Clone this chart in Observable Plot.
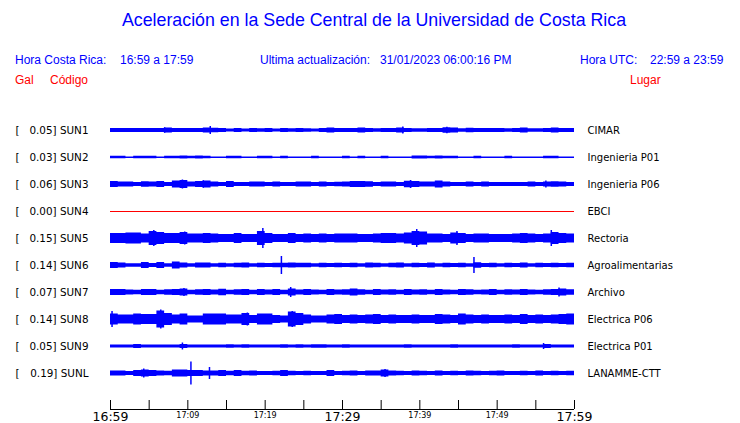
<!DOCTYPE html>
<html><head><meta charset="utf-8">
<script src="https://cdn.jsdelivr.net/npm/d3@7"></script>
<script src="https://cdn.jsdelivr.net/npm/@observablehq/plot@0.6"></script>
<style>
body{margin:0;background:#fff;}
#wrap{position:relative;width:740px;height:423px;overflow:hidden;background:#fff;}
#head{position:relative;width:740px;height:100px;font-family:"Liberation Sans",Arial,sans-serif;}
#head span{position:absolute;white-space:pre;line-height:1;}
.b{color:#0000ff;font-size:12px;top:54px}
.r{color:#ff0000;font-size:12px;top:74px}
#title{left:0;width:748px;text-align:center;font-size:17.8px;color:#0000ff;top:12px}
svg{display:block}
</style></head>
<body><div id="wrap">
<div id="head">
<span id="title">Aceleración en la Sede Central de la Universidad de Costa Rica</span>
<span class="b" style="left:15px">Hora Costa Rica:</span>
<span class="b" style="left:120px">16:59 a 17:59</span>
<span class="b" style="left:260px">Ultima actualización:</span>
<span class="b" style="left:380px">31/01/2023 06:00:16 PM</span>
<span class="b" style="left:580px">Hora UTC:</span>
<span class="b" style="left:650px">22:59 a 23:59</span>
<span class="r" style="left:15px">Gal</span>
<span class="r" style="left:50px">Código</span>
<span class="r" style="left:630px">Lugar</span>
</div>
<div id="chart"></div>
</div>
<script>
// ---- data ----
const stations = ["SUN1","SUN2","SUN3","SUN4","SUN5","SUN6","SUN7","SUN8","SUN9","SUNL"];
const places = ["CIMAR","Ingenieria P01","Ingenieria P06","EBCI","Rectoria","Agroalimentarias","Archivo","Electrica P06","Electrica P01","LANAMME-CTT"];
const peaks = [0.05,0.03,0.06,0.00,0.15,0.14,0.07,0.14,0.05,0.19];
const bigTickLabels = ["16:59","17:29","17:59"];
const smallTickLabels = ["17:09","17:19","17:39","17:49"];
const tickStepMinutes = 5;
const windowMinutes = 60;

// per-minute envelope half-amplitudes (display units)
const env1 = [2,2,2,2,2,2,2,2.5,2,2, 2,2,2.5,2.2,2,1.6,2,1.6,2,1.8, 2,1.6,2,1.8,2,1.8,1.6,2,2.4,2, 2,2,2.6,2,1.8,2,2,2.6,2,1.8, 1.8,2,2,2.8,2.6,1.8,2.2,2,2,2, 2,1.8,2,2.6,1.8,1.8,2,2.4,2,2];
const env2 = [1.2,1.2,0.6,1.2,1.2,1.2,0.6,1.2,1.2,1.4, 1.2,1.4,1.2,0.6,0.6,1.2,1.2,0.6,0.6,1.2, 1.2,0.6,1.2,0.6,0.6,0.6,1.2,0.6,0.6,0.6, 1.2,0.6,1.2,0.6,0.6,1.2,0.6,0.6,0.6,1.6, 1.6,1.2,1.6,1.2,1.2,0.6,0.6,1.2,0.6,0.6, 0.6,1.2,0.6,0.6,0.6,0.6,1.2,1.2,0.6,0.6];
const env3 = [3,2.6,2.4,2,2.8,2.6,3,2,3.4,4, 2.4,3,3.4,2.4,2,3,2,2,2.6,2.6, 2,2.6,2,2,2.6,2.4,2,2.6,2,2.2, 2.6,3,3,2.8,2,2.6,2.6,2,3.2,3, 2.6,2.4,3.4,2.6,2,2,2.6,2,2.6,2, 2,2,2,2,2.6,2,2.6,2.8,2.4,2];
const env4 = [0,0,0,0,0,0,0,0,0,0, 0,0,0,0,0,0,0,0,0,0, 0,0,0,0,0,0,0,0,0,0, 0,0,0,0,0,0,0,0,0,0, 0,0,0,0,0,0,0,0,0,0, 0,0,0,0,0,0,0,0,0,0];
const env5 = [5,5,5.5,5.5,4.5,7,6,5,5,6, 4.5,4.5,5,4.5,4,4,5,4,4,7, 5,4,4,5,4,4.5,4,4.5,4,4.5, 4.5,4.5,4,4,4.5,5,5,4.5,5.5,7, 6.5,4.5,4.5,4,5.5,5,4,4.5,4.5,4, 4,4,4.5,5,4.5,4,4.5,6,5,4.5];
const env6 = [3,2.4,1.7,1.7,3,2,3,1.7,3.5,2.5, 1.7,2.5,2.5,1.7,2.3,1.7,2.3,2.6,1.7,2.3, 2,2.3,2.3,2.5,2.2,2.2,1.7,2.3,2,2.3, 2,2.3,1.7,2.5,2.3,1.7,2.3,2.5,1.7,2.3, 2,2.5,1.7,2.3,2,2.3,1.7,2.8,2,2.3, 1.7,2.3,2,2.5,1.7,2.3,2,2.3,2,2.3];
const env7 = [3,3,2.6,2.2,3,3,2.2,2.8,3,3.5, 2.2,2.8,3,2.6,3.2,2.2,2.8,3,2.2,3, 2.6,3,2.2,3.4,2.6,3,2.6,2.2,3,2.6, 2.8,3.4,2.8,2.2,3,2.6,2.8,2.2,3,2.6, 2.8,2.2,3,2.6,2.2,3,2.8,2.2,2.6,3, 2.2,2.8,2.6,3,2.6,2.2,2.8,3,3.4,2.8];
const env8 = [5.5,4.5,4.5,5.5,5,5,8.5,6,4.5,5.5, 3.5,3.5,5.5,5.5,5.5,4.5,4.5,6,4,5.5, 5.5,4,3.5,7.5,6,4.5,3.5,3.5,4.5,5, 4,4.5,4,4.5,5,4,4.5,4,4,4.5, 4,4,5,4.5,4,5.5,4.5,4,4.5,4, 4,4.5,4,5,4,4.5,4,4.5,5,5.5];
const env9 = [1.5,1.5,1.5,2,1.5,1.5,1.5,1.5,1.5,2, 1.5,1.5,1.5,1.5,1.5,1.8,1.5,1.8,1.5,1.5, 1.5,1.5,1.8,1.5,1.8,1.5,1.8,1.8,1.5,1.5, 1.8,1.5,1.5,1.5,1.5,1.5,1.5,1.5,1.8,1.5, 1.5,1.5,1.5,1.5,1.8,1.5,1.5,1.5,1.5,1.5, 1.5,1.5,1.8,1.5,1.5,1.5,2,1.5,1.5,1.5];
const env10 = [2.5,2.5,2,3,3.5,3,2.5,2.2,3.5,3.5, 3,3,2.5,2.5,3,2.2,3,2.2,2.5,2, 2,2.2,3,2.2,2,2.2,2,2,3,2, 2.2,2.5,2,2.5,2.5,3.5,2.5,2.2,2,2.5, 2.2,2,2.5,2,2.2,2,2.5,2.2,2,2.2, 2.5,2,2,2.2,2,2.5,2,2.2,2,2.2];

// isolated peaks: [minute, half-amplitude]
const spikes1 = [[7,2.8],[12.9,4],[37.8,3.5],[43.5,3.2]];
const spikes2 = [];
const spikes3 = [[9.3,4.5],[12,3.8],[38.8,4],[56.3,3.5]];
const spikes4 = [];
const spikes5 = [[5.6,8],[9.6,6.5],[19.7,10],[39.6,9],[44.8,7],[57,8]];
const spikes6 = [[22.1,9],[47,8]];
const spikes7 = [[9.5,4],[23.3,5],[58,4.5]];
const spikes8 = [[0.2,8],[6.5,9.5],[17.7,6.5],[23.5,8]];
const spikes9 = [[9.3,3.5],[56,3]];
const spikes10 = [[4.3,4.5],[10.4,11.5],[12.8,6],[35.5,4]];

const envs = [env1,env2,env3,env4,env5,env6,env7,env8,env9,env10];
const spikeLists = [spikes1,spikes2,spikes3,spikes4,spikes5,spikes6,spikes7,spikes8,spikes9,spikes10];

// ---- build ----
const t0 = new Date(2023, 0, 31, 16, 59);
const at = m => new Date(t0.getTime() + m * 60000);
const t1 = at(windowMinutes);
const minutesOf = lab => { const [h, m] = lab.split(":").map(Number); return (h * 60 + m) - (16 * 60 + 59); };

const rowPx = 27;            // pixel pitch between traces
const u = a => a / rowPx;    // amplitude units -> row units
const yMin = -1, yMax = (309 - 30) / rowPx;

const areaData = [];
envs.forEach((e, i) => {
  e.forEach((a, m) => areaData.push({i, t: at(m), lo: i - u(a), hi: i + u(a)}));
  const last = e[e.length - 1];
  areaData.push({i, t: at(e.length), lo: i - u(last), hi: i + u(last)});
});
const spikeData = [];
spikeLists.forEach((s, i) => s.forEach(([m, a]) => spikeData.push({i, t: at(m), lo: i - u(a), hi: i + u(a)})));
const rows = stations.map((s, i) => ({i, s, place: places[i], peak: peaks[i]}));
const flatRows = rows.filter(d => d.peak === 0);
const liveRows = rows.filter(d => d.peak > 0);
const ticks = d3.range(0, windowMinutes + 1, tickStepMinutes).map(at);

const chart = Plot.plot({
  width: 740, height: 323,
  marginLeft: 110, marginRight: 166, marginTop: 3, marginBottom: 14,
  x: {type: "time", domain: [t0, t1], axis: null},
  y: {domain: [yMin, yMax], reverse: true, axis: null},
  style: {fontFamily: "DejaVu Sans", background: "white", overflow: "visible", color: "black"},
  marks: [
    Plot.areaY(areaData.filter(d => peaks[d.i] > 0), {x: "t", y1: "lo", y2: "hi", z: "i", fill: "#0000ff", curve: "step-after"}),
    Plot.ruleY(liveRows, {y: "i", x1: t0, x2: t1, stroke: "#0000ff", strokeWidth: 1}),
    Plot.ruleX(spikeData, {x: "t", y1: "lo", y2: "hi", stroke: "#0000ff", strokeWidth: 1.5}),
    Plot.ruleY(flatRows, {y: "i", x1: t0, x2: t1, stroke: "#ff0000", strokeWidth: 1}),
    Plot.text(rows, {x: () => t0, y: "i", text: () => "[", textAnchor: "start", dx: -95, fontSize: 10.4, fill: "#000"}),
    Plot.text(rows, {x: () => t0, y: "i", text: d => `${d.peak.toFixed(2)}] ${d.s}`, textAnchor: "end", dx: -22, fontSize: 10.4, fill: "#000"}),
    Plot.text(rows, {x: () => t1, y: "i", text: "place", textAnchor: "start", dx: 13, fontSize: 10, fill: "#000"}),
    Plot.ruleY([yMax], {x1: t0, x2: t1, stroke: "#000", strokeWidth: 1}),
    Plot.ruleX(ticks, {x: d => d, y1: yMax, y2: yMax - u(9), stroke: "#000", strokeWidth: 1}),
    Plot.text(bigTickLabels, {x: d => at(minutesOf(d)), y: () => yMax, text: d => d, lineAnchor: "top", dy: 3, fontSize: 12.5, fill: "#000", style: "letter-spacing:1px"}),
    Plot.text(smallTickLabels, {x: d => at(minutesOf(d)), y: () => yMax, text: d => d, lineAnchor: "top", dy: 3, fontSize: 8, fill: "#000"})
  ]
});
document.getElementById("chart").appendChild(chart);
</script>
</body></html>
